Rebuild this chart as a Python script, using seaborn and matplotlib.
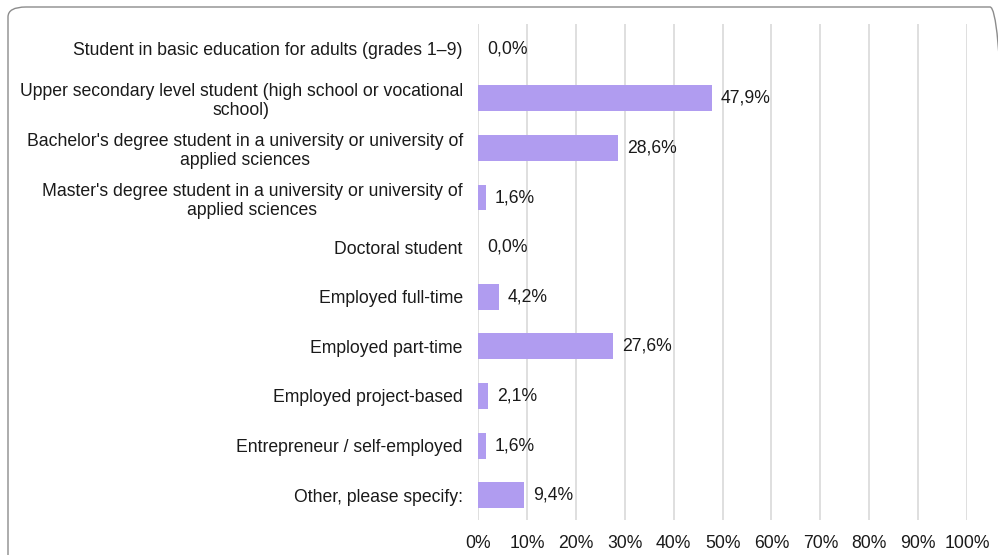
import matplotlib
matplotlib.use("Agg")
import matplotlib.pyplot as plt
from matplotlib.patches import FancyBboxPatch
import seaborn as sns
import pandas as pd

categories = [
    "Student in basic education for adults (grades 1–9)",
    "Upper secondary level student (high school or vocational\nschool)",
    "Bachelor's degree student in a university or university of\napplied sciences",
    "Master's degree student in a university or university of\napplied sciences",
    "Doctoral student",
    "Employed full-time",
    "Employed part-time",
    "Employed project-based",
    "Entrepreneur / self-employed",
    "Other, please specify:",
]
shares = [0.0, 47.9, 28.6, 1.6, 0.0, 4.2, 27.6, 2.1, 1.6, 9.4]
x_ticks = [0, 10, 20, 30, 40, 50, 60, 70, 80, 90, 100]

df = pd.DataFrame({"category": categories, "share": shares})

sns.set_theme(style="white")
plt.rcParams["font.family"] = ["Liberation Sans", "DejaVu Sans"]

fig = plt.figure(figsize=(9.98, 5.55), dpi=100)
ax = fig.add_axes([0.479, 0.063, 0.490, 0.894])

bar_color = "#b09cf0"
sns.barplot(data=df, x="share", y="category", orient="h", color=bar_color,
            width=0.52, saturation=1, ax=ax, linewidth=0, zorder=3)

fs = 12.7
ax.set_xlim(0, 100)
ax.set_ylim(9.5, -0.5)
ax.set_xticks(x_ticks)
ax.set_xticklabels([f"{t}%" for t in x_ticks], fontsize=fs, color="#1a1a1a")
ax.tick_params(axis="y", labelsize=fs, colors="#1a1a1a", length=0, pad=11)
ax.tick_params(axis="x", length=0, pad=11)
for lbl in ax.get_yticklabels():
    lbl.set_horizontalalignment("right")
    lbl.set_multialignment("center")
    lbl.set_linespacing(1.16)
ax.set_xlabel("")
ax.set_ylabel("")
for s in ax.spines.values():
    s.set_visible(False)
ax.grid(axis="x", color="#d9d9d9", linewidth=1.2, zorder=0)
ax.set_axisbelow(True)

for i, v in enumerate(shares):
    ax.text(v + 1.8, i, f"{v:.1f}%".replace(".", ","), va="center", ha="left",
            fontsize=fs, color="#1a1a1a", zorder=4)

border = FancyBboxPatch((8 / 998, -10 / 555), 1000 / 998, 558 / 555,
                        boxstyle="round,pad=0,rounding_size=0.018",
                        transform=fig.transFigure, fill=False,
                        edgecolor="#8c8c8c", linewidth=1.0, clip_on=False)
fig.patches.append(border)

fig.savefig("out.png", dpi=100)
